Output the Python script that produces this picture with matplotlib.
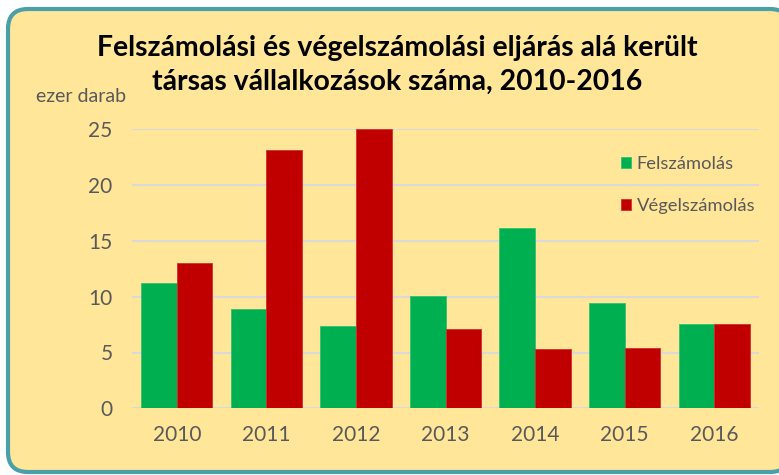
import numpy as np
import matplotlib
matplotlib.use("Agg")
import matplotlib.pyplot as plt
import matplotlib.patches as mpatches
from matplotlib.transforms import IdentityTransform

years = ["2010", "2011", "2012", "2013", "2014", "2015", "2016"]
felszamolas = [11.25, 8.92, 7.35, 10.04, 16.18, 9.41, 7.55]
vegelszamolas = [13.02, 23.15, 25.0, 7.10, 5.31, 5.40, 7.55]

title_1 = "Felszámolási és végelszámolási eljárás alá került"
title_2 = "társas vállalkozások száma, 2010-2016"
unit = "ezer darab"

bg = "#FFE699"
green = "#00B050"
red = "#C00000"
grey = "#595959"

plt.rcParams["font.family"] = ["Lato", "DejaVu Sans"]

W, H = 779, 475
fig = plt.figure(figsize=(W/100, H/100), dpi=100)
fig.patch.set_facecolor("white")

# rounded frame in pixel coordinates, running off the right edge
frame = mpatches.FancyBboxPatch((8, 3), 790 - 8, 463,
                                boxstyle="round,pad=0,rounding_size=20",
                                facecolor=bg, edgecolor="#4A9FA8", linewidth=3,
                                transform=IdentityTransform(), zorder=-5)
fig.patches.append(frame)

ax = fig.add_axes([132/W, (H-408.3)/H, 627/W, 279/H])
ax.set_facecolor("none")

x = np.arange(len(years))
bw = 0.398
ax.bar(x - bw/2, felszamolas, bw, color=green, edgecolor="#33C070", linewidth=0.6,
       label="Felszámolás", zorder=3)
ax.bar(x + bw/2, vegelszamolas, bw, color=red, edgecolor="#D03030", linewidth=0.6,
       label="Végelszámolás", zorder=3)

ax.set_xlim(-0.5, len(years) - 0.5)
ax.set_ylim(0, 25)
ax.set_yticks([0, 5, 10, 15, 20, 25])
ax.set_xticks(x)
ax.set_xticklabels(years)
ax.grid(axis="y", color="#D9D9D9", linewidth=1.5, zorder=0)
for s in ax.spines.values():
    s.set_visible(False)
ax.tick_params(length=0, labelsize=15, colors=grey, pad=12)
ax.tick_params(axis="y", pad=14)

fig.text(397/W, 1 - 48/H, title_1, ha="center", va="center",
         fontsize=20.4, fontweight="bold", color="black")
fig.text(397/W, 1 - 82/H, title_2, ha="center", va="center",
         fontsize=20.4, fontweight="bold", color="black")
fig.text(36/W, 1 - 97/H, unit, ha="left", va="center", fontsize=14, color=grey)

leg = ax.legend(loc="upper left", bbox_to_anchor=(621/W, 1 - 156/H),
                bbox_transform=fig.transFigure, frameon=False,
                borderpad=0, borderaxespad=0,
                handlelength=0.55, handleheight=0.55, handletextpad=0.3,
                labelspacing=1.4, fontsize=13.2)
for t in leg.get_texts():
    t.set_color(grey)

fig.savefig("out.png", dpi=100)
